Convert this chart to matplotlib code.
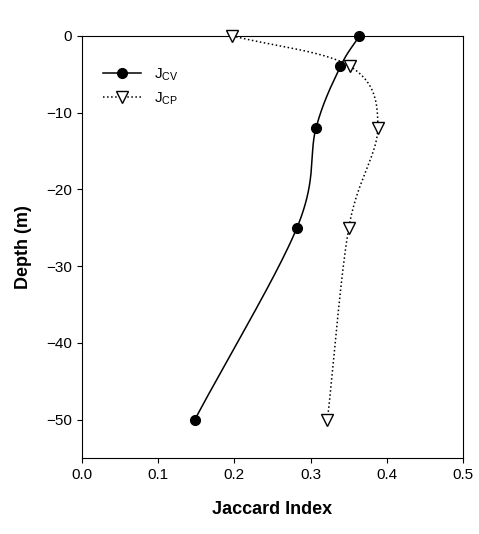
import numpy as np
import matplotlib
matplotlib.use("Agg")
import matplotlib.pyplot as plt

plt.rcParams['font.family'] = ['Liberation Sans', 'DejaVu Sans']

depth = [0, -4, -12, -25, -50]
j_cv = [0.364, 0.339, 0.307, 0.282, 0.148]
depth_cp = [0, -4, -12, -25, -50]
j_cp = [0.197, 0.352, 0.388, 0.350, 0.322]

def smooth(x, y, n=40):
    p = np.column_stack([x, y]).astype(float)
    # scale for even parametrization
    s = np.array([1/0.5, 1/55.0])
    q = p * s
    q = np.vstack([2*q[0]-q[1], q, 2*q[-1]-q[-2]])
    out = []
    for i in range(1, len(q)-2):
        p0, p1, p2, p3 = q[i-1], q[i], q[i+1], q[i+2]
        t = np.linspace(0, 1, n)[:, None]
        seg = 0.5*((2*p1) + (-p0+p2)*t + (2*p0-5*p1+4*p2-p3)*t**2 + (-p0+3*p1-3*p2+p3)*t**3)
        out.append(seg)
    o = np.vstack(out) / s
    return o[:, 0], o[:, 1]

fig = plt.figure(figsize=(4.79, 5.34), dpi=100)
ax = fig.add_axes([0.171, 0.142, 0.796, 0.791])

xs, ys = smooth(j_cv, depth)
ax.plot(xs, ys, color='black', lw=1.1, zorder=2)
ax.plot(j_cv, depth, 'o', color='black', ms=7, zorder=3, clip_on=False)
xs, ys = smooth(j_cp, depth_cp)
ax.plot(xs, ys, color='black', lw=1.1, ls=':', zorder=2)
ax.plot(j_cp, depth_cp, 'v', mfc='white', mec='black', ms=8, zorder=3, clip_on=False)

ax.plot([], [], 'o-', color='black', ms=7, lw=1.1, label='J$_{\\mathregular{CV}}$')
ax.plot([], [], 'v:', color='black', mfc='white', ms=8, lw=1.1, label='J$_{\\mathregular{CP}}$')
ax.legend(loc='upper left', bbox_to_anchor=(0.02, 0.96), frameon=False, fontsize=11, handlelength=2.5)

ax.set_xlim(0, 0.5)
ax.set_ylim(-55, 0)
ax.set_xticks([0, 0.1, 0.2, 0.3, 0.4, 0.5])
ax.set_xticklabels(['0.0', '0.1', '0.2', '0.3', '0.4', '0.5'])
ax.set_yticks([0, -10, -20, -30, -40, -50])
ax.tick_params(labelsize=11)
ax.set_xlabel('Jaccard Index', fontsize=13, fontweight='bold', labelpad=14)
ax.set_ylabel('Depth (m)', fontsize=13, fontweight='bold', labelpad=10)
fig.savefig('out.png', dpi=100)
